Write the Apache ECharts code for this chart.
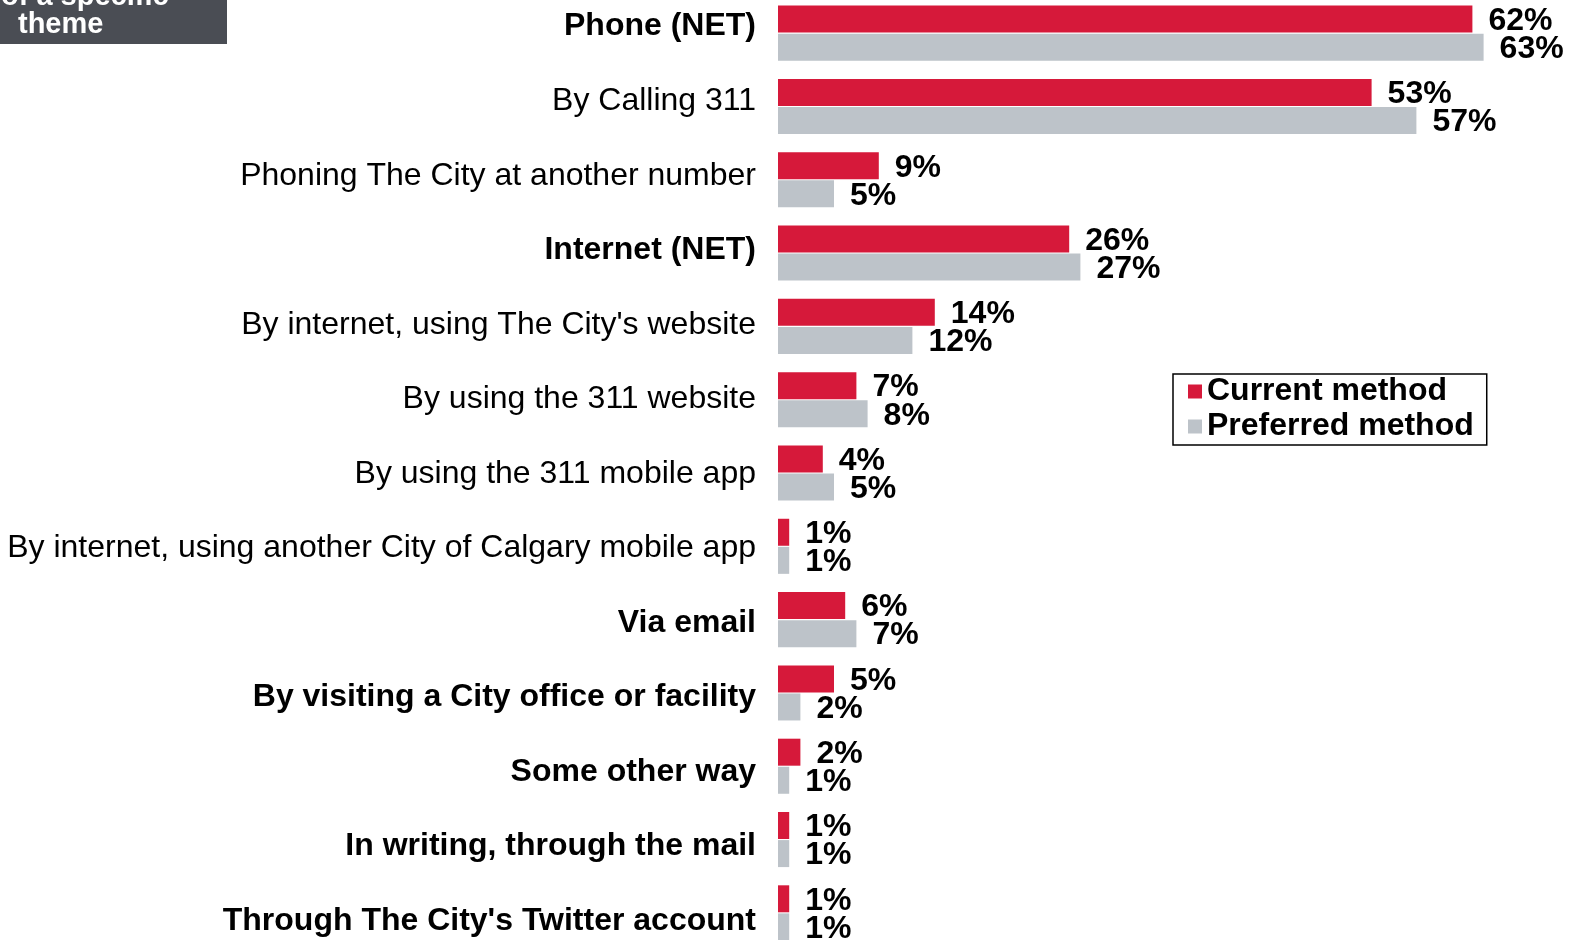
<!DOCTYPE html>
<html>
<head>
<meta charset="utf-8">
<script src="https://cdn.jsdelivr.net/npm/echarts@6/dist/echarts.min.js"></script>
<style>
  html, body { margin: 0; padding: 0; background: #fff; overflow: hidden; width: 1574px; height: 940px; }
  /* the plot runs slightly past the top and bottom edges of the page */
  #chart { position: absolute; left: 0; top: -12px; width: 1574px; height: 980px; }
</style>
</head>
<body>
<div id="chart"></div>
<script>
// Contact methods, current vs preferred (percent of respondents)
const categories = [
  "Phone (NET)",
  "By Calling 311",
  "Phoning The City at another number",
  "Internet (NET)",
  "By internet, using The City's website",
  "By using the 311 website",
  "By using the 311 mobile app",
  "By internet, using another City of Calgary mobile app",
  "Via email",
  "By visiting a City office or facility",
  "Some other way",
  "In writing, through the mail",
  "Through The City's Twitter account"
];
const currentMethod   = [62, 53, 9, 26, 14, 7, 4, 1, 6, 5, 2, 1, 1];
const preferredMethod = [63, 57, 5, 27, 12, 8, 5, 1, 7, 2, 1, 1, 1];
const seriesNames = ["Current method", "Preferred method"];

// Headline rows and single-answer methods are set in bold
const boldRows = new Set([
  "Phone (NET)",
  "Internet (NET)",
  "Via email",
  "By visiting a City office or facility",
  "Some other way",
  "In writing, through the mail",
  "Through The City's Twitter account"
]);

const FONT = "'Liberation Sans', Arial, Helvetica, sans-serif";
const RED = "#d6193a";
const GREY = "#bdc3c9";
const OFFSET = 12; // canvas starts 12px above the page

const chart = echarts.init(document.getElementById("chart"), null, { renderer: "canvas" });

const valueLabel = {
  show: true,
  position: "right",
  distance: 16,
  offset: [0, 2],
  formatter: p => p.value + "%",
  fontFamily: FONT,
  fontWeight: "bold",
  fontSize: 32,
  color: "#000"
};

chart.setOption({
  animation: false,
  backgroundColor: "#fff",
  grid: [
    // bars
    { left: 778, right: 12, top: 8.5, bottom: 18.5, containLabel: false },
    // row captions, on a slightly taller band than the bars
    { left: 778, right: 12, top: 1.3, bottom: 9.5, containLabel: false }
  ],
  xAxis: [
    { type: "value", min: 0, max: 70, show: false, gridIndex: 0 },
    { type: "value", min: 0, max: 70, show: false, gridIndex: 1 }
  ],
  yAxis: [
    {
      type: "category",
      gridIndex: 0,
      data: categories,
      inverse: true,
      axisLine: { show: false },
      axisTick: { show: false },
      splitLine: { show: false },
      axisLabel: { show: false }
    },
    {
      type: "category",
      gridIndex: 1,
      data: categories,
      inverse: true,
      axisLine: { show: false },
      axisTick: { show: false },
      splitLine: { show: false },
      axisLabel: {
        margin: 22,
        formatter: v => boldRows.has(v) ? "{b|" + v + "}" : "{n|" + v + "}",
        rich: {
          b: { fontFamily: FONT, fontSize: 32, fontWeight: "bold", color: "#000" },
          n: { fontFamily: FONT, fontSize: 32, fontWeight: "normal", color: "#000" }
        }
      }
    }
  ],
  legend: {
    orient: "vertical",
    left: 1173,
    top: 374 + OFFSET,
    icon: "rect",
    itemWidth: 14,
    itemHeight: 14,
    itemGap: 0,
    itemTextGap: 13,
    padding: [0, 13, 1, 15],
    borderColor: "#000",
    borderWidth: 1.5,
    itemStyle: { borderWidth: 0 },
    textStyle: { fontFamily: FONT, fontSize: 32, fontWeight: "bold", color: "#000", lineHeight: 35 },
    data: seriesNames
  },
  series: [
    {
      name: seriesNames[0],
      type: "bar",
      xAxisIndex: 0,
      yAxisIndex: 0,
      data: currentMethod,
      barWidth: 27,
      barGap: "4%",
      itemStyle: { color: RED },
      label: valueLabel
    },
    {
      name: seriesNames[1],
      type: "bar",
      xAxisIndex: 0,
      yAxisIndex: 0,
      data: preferredMethod,
      barWidth: 27,
      barGap: "4%",
      itemStyle: { color: GREY },
      label: valueLabel
    }
  ],
  graphic: [
    {
      type: "rect",
      shape: { x: 0, y: 0, width: 227, height: 44 + OFFSET },
      style: { fill: "#4a4d54" }
    },
    {
      type: "text",
      style: {
        x: 1, y: -3 + OFFSET, text: "of a specific",
        font: "bold 29px " + FONT,
        fill: "#fff", verticalAlign: "middle"
      }
    },
    {
      type: "text",
      style: {
        x: 18, y: 25 + OFFSET, text: "theme",
        font: "bold 29px " + FONT,
        fill: "#fff", verticalAlign: "middle"
      }
    }
  ]
});
</script>
</body>
</html>
